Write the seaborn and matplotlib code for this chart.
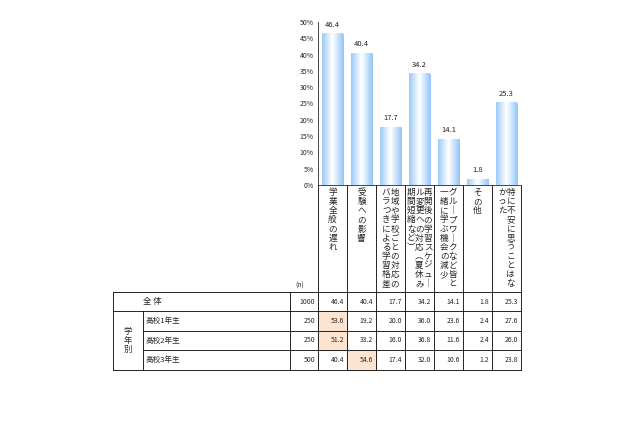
import matplotlib
matplotlib.use("Agg")
import matplotlib.pyplot as plt
import seaborn as sns
import pandas as pd
import numpy as np

sns.set_style("white")
plt.rcParams['font.family'] = ['Noto Sans CJK JP', 'DejaVu Sans']

categories = ["学業全般の遅れ", "受験への影響", "地域や学校ごとの対応のバラつき", "再開後の学習スケジュール変更",
              "グループワーク", "その他", "特に不安に思うことはなかった"]
label_cols = [["学業全般の遅れ"], ["受験への影響"],
              ["地域や学校ごとの対応の", "バラつきによる学習格差"],
              ["再開後の学習スケジュ｜", "ル変更への対応︵夏休み", "期間短縮など︶"],
              ["グル｜プワ｜クなど皆と", "一緒に学ぶ機会の減少"],
              ["その他"],
              ["特に不安に思うことはな", "かった"]]
overall = [46.4, 40.4, 17.7, 34.2, 14.1, 1.8, 25.3]
row_names = ["全 体", "高校1年生", "高校2年生", "高校3年生"]
row_n = [1000, 250, 250, 500]
row_vals = [[46.4, 40.4, 17.7, 34.2, 14.1, 1.8, 25.3],
            [53.6, 19.2, 20.0, 36.0, 23.6, 2.4, 27.6],
            [51.2, 33.2, 16.0, 36.8, 11.6, 2.4, 26.0],
            [40.4, 54.6, 17.4, 32.0, 10.6, 1.2, 23.8]]
highlight = [(1, 0), (2, 0), (3, 1)]

W, H = 640, 426
fig = plt.figure(figsize=(6.4, 4.26), dpi=100)
fig.patch.set_facecolor("white")
x0, x1, ytop, ybot = 318, 521, 22, 185
ax = fig.add_axes([x0 / W, 1 - ybot / H, (x1 - x0) / W, (ybot - ytop) / H])
df = pd.DataFrame({"cat": categories, "val": overall})
sns.barplot(data=df, x="cat", y="val", ax=ax, color="#b3d6fb", width=0.72,
            edgecolor="#8ec0f5", linewidth=0.6, saturation=1)
for p in ax.patches:
    bx, by = p.get_x(), p.get_y()
    w, h = p.get_width(), p.get_height()
    grad = np.abs(np.linspace(-1, 1, 50))[None, :]
    ax.imshow(grad, extent=[bx, bx + w, 0, h], aspect="auto", cmap=matplotlib.colors.LinearSegmentedColormap.from_list("g", ["#ffffff", "#9ccaf8"]),
              zorder=p.get_zorder() + 0.1)
for i, v in enumerate(overall):
    ax.text(i, v + 1.5, f"{v:.1f}", ha="center", va="bottom", fontsize=5.5)
ax.set_xlim(-0.5, 6.5)
ax.set_ylim(0, 50)
ax.set_yticks(range(0, 51, 5))
ax.set_yticklabels([f"{t}%" for t in range(0, 51, 5)], fontsize=5)
ax.tick_params(axis="y", length=2, pad=1)
ax.set_xticks([])
ax.set_xlabel(""); ax.set_ylabel("")
for s in ["top", "right"]:
    ax.spines[s].set_visible(False)
ax.spines["left"].set_linewidth(0.6)
ax.spines["bottom"].set_linewidth(0.6)

ov = fig.add_axes([0, 0, 1, 1], zorder=-1)
ov.set_xlim(0, W); ov.set_ylim(H, 0); ov.axis("off")
colw = (x1 - x0) / 7
colx = [x0 + colw * i for i in range(8)]
lw = 0.6
# label region lines
for cx in colx:
    ov.plot([cx, cx], [185, 292], color="black", lw=lw)
for i, cols in enumerate(label_cols):
    c = (colx[i] + colx[i + 1]) / 2
    n = len(cols)
    sp = 8.5
    for j, t in enumerate(cols):
        xx = c + (n - 1) / 2 * sp - j * sp
        ov.text(xx, 188, "\n".join(t), ha="center", va="top", fontsize=6.2, linespacing=1.02)
ov.text(300, 290, "(n)", fontsize=5, ha="center", va="bottom")
# table
rows_y = [292, 311, 331, 350, 370]
tl, lab_x, nl = 113, 143, 290
for (r, c) in highlight:
    ov.add_patch(plt.Rectangle((colx[c], rows_y[r]), colw, rows_y[r + 1] - rows_y[r], color="#fde4d0", zorder=0))
ov.plot([tl, x1], [rows_y[0]] * 2, color="black", lw=lw)
ov.plot([tl, x1], [rows_y[1]] * 2, color="black", lw=lw)
ov.plot([tl, x1], [rows_y[-1]] * 2, color="black", lw=lw)
for y in rows_y[2:4]:
    ov.plot([lab_x, x1], [y, y], color="black", lw=lw)
ov.plot([tl, tl], [rows_y[0], rows_y[-1]], color="black", lw=lw)
ov.plot([lab_x, lab_x], [rows_y[1], rows_y[-1]], color="black", lw=lw)
for cx in [nl] + colx:
    ov.plot([cx, cx], [rows_y[0], rows_y[-1]], color="black", lw=lw)
ov.text(128, (rows_y[2] + rows_y[3]) / 2, "学\n年\n別", ha="center", va="center", fontsize=6, linespacing=1.05)
for r in range(4):
    yc = (rows_y[r] + rows_y[r + 1]) / 2
    if r == 0:
        ov.text(143, yc, row_names[r], ha="left", va="center", fontsize=6)
    else:
        ov.text(146, yc, row_names[r], ha="left", va="center", fontsize=5.5)
    ov.text(nl + 25, yc, str(row_n[r]), ha="right", va="center", fontsize=5)
    for c, v in enumerate(row_vals[r]):
        ov.text(colx[c + 1] - 3, yc, f"{v:.1f}", ha="right", va="center", fontsize=5)

fig.savefig("out.png", dpi=100, facecolor="white")
